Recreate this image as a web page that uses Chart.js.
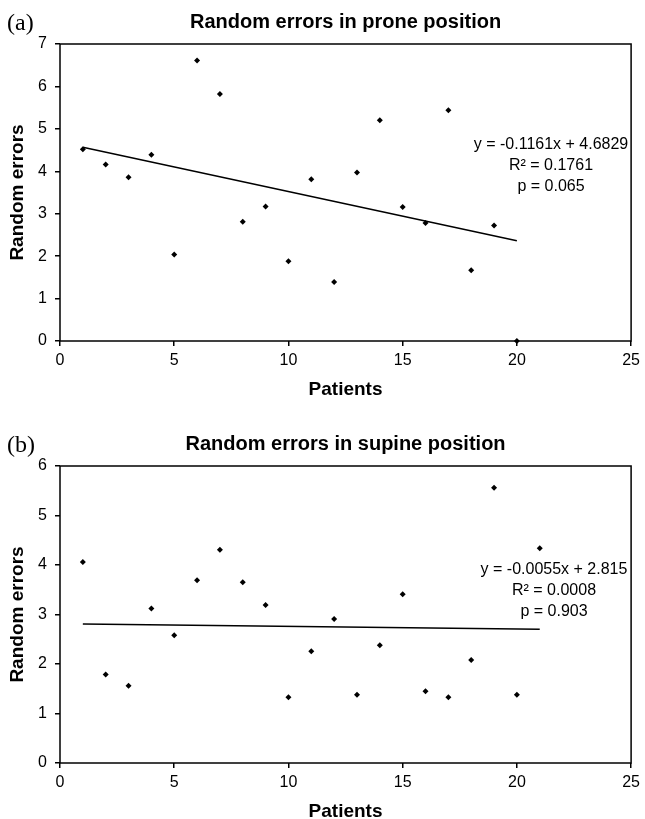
<!DOCTYPE html>
<html>
<head>
<meta charset="utf-8">
<script src="https://cdn.jsdelivr.net/npm/chart.js@4"></script>
<style>
  html, body { margin: 0; padding: 0; background: #fff; overflow: hidden; }
  canvas { position: absolute; left: 0; }
  #chartA { top: 0; }
  #chartB { top: 410px; }
</style>
</head>
<body>
<canvas id="chartA" width="645" height="410"></canvas>
<canvas id="chartB" width="645" height="409"></canvas>
<script>
// data
const pronePatients = [1, 2, 3, 4, 5, 6, 7, 8, 9, 10, 11, 12, 13, 14, 15, 16, 17, 18, 19, 20];
const proneErrors = [4.52, 4.16, 3.86, 4.39, 2.04, 6.61, 5.82, 2.81, 3.17, 1.88, 3.81, 1.39, 3.97, 5.20, 3.16, 2.78, 5.44, 1.67, 2.72, 0];
const proneTrendX = [1, 20];
const proneTrendY = [4.567, 2.361];

const supinePatients = [1, 2, 3, 4, 5, 6, 7, 8, 9, 10, 11, 12, 13, 14, 15, 16, 17, 18, 19, 20, 21];
const supineErrors = [4.06, 1.79, 1.56, 3.12, 2.58, 3.69, 4.31, 3.65, 3.19, 1.33, 2.26, 2.91, 1.38, 2.38, 3.41, 1.45, 1.33, 2.08, 5.56, 1.38, 4.34];
const supineTrendX = [1, 21];
const supineTrendY = [2.810, 2.700];

const xTicks = [0, 5, 10, 15, 20, 25];
const proneYTicks = [0, 1, 2, 3, 4, 5, 6, 7];
const supineYTicks = [0, 1, 2, 3, 4, 5, 6];

const proneEquation = ["y = -0.1161x + 4.6829", "R² = 0.1761", "p = 0.065"];
const supineEquation = ["y = -0.0055x + 2.815", "R² = 0.0008", "p = 0.903"];

const FONT = '"Liberation Sans", Arial, Helvetica, sans-serif';
Chart.defaults.font.family = FONT;
Chart.defaults.color = '#000';

const toPoints = (xs, ys) => xs.map((x, i) => ({ x: x, y: ys[i] }));

// frame, panel letter, title and regression text
const panelDeco = {
  id: 'panelDeco',
  beforeDatasetsDraw(chart, args, opts) {
    const a = chart.chartArea;
    const ctx = chart.ctx;
    ctx.save();
    ctx.strokeStyle = '#000';
    ctx.lineWidth = 1.5;
    ctx.strokeRect(a.left, a.top, a.right - a.left, a.bottom - a.top);
    ctx.restore();
  },
  afterDraw(chart, args, opts) {
    const a = chart.chartArea;
    const ctx = chart.ctx;
    ctx.save();
    ctx.fillStyle = '#000';
    ctx.font = 'bold 20px ' + FONT;
    ctx.textAlign = 'center';
    ctx.textBaseline = 'alphabetic';
    ctx.fillText(opts.title, (a.left + a.right) / 2, opts.titleY);

    ctx.font = '24px "Liberation Serif", "Times New Roman", serif';
    ctx.textAlign = 'left';
    ctx.fillText(opts.letter, 7, opts.letterY);

    ctx.font = '16px ' + FONT;
    ctx.textAlign = 'center';
    ctx.textBaseline = 'middle';
    opts.eqLines.forEach((t, i) => ctx.fillText(t, opts.eqX, opts.eqY + i * 21));
    ctx.restore();
  }
};

function makeChart(id, cfg) {
  return new Chart(document.getElementById(id), {
    type: 'scatter',
    data: {
      datasets: [{
        data: toPoints(cfg.xs, cfg.ys),
        pointStyle: 'rectRot',
        pointRadius: 3,
        backgroundColor: '#000',
        borderWidth: 0,
        clip: false
      }, {
        data: toPoints(cfg.trendX, cfg.trendY),
        showLine: true,
        pointRadius: 0,
        borderColor: '#000',
        borderWidth: 1.5
      }]
    },
    options: {
      responsive: false,
      animation: false,
      layout: { padding: { top: cfg.top, right: 11, bottom: 0, left: 0 } },
      plugins: {
        legend: { display: false },
        tooltip: { enabled: false },
        panelDeco: cfg.deco
      },
      scales: {
        x: {
          type: 'linear',
          min: 0,
          max: 25,
          afterBuildTicks: s => { s.ticks = xTicks.map(v => ({ value: v })); },
          afterFit: s => { s.height = cfg.xHeight; },
          border: { display: false },
          grid: { drawOnChartArea: false, drawTicks: true, tickLength: 5, color: '#000', lineWidth: 1.5 },
          ticks: { font: { size: 16 }, padding: 5, maxRotation: 0 },
          title: {
            display: true,
            text: 'Patients',
            font: { size: 19, weight: 'bold', lineHeight: 1 },
            padding: { top: 0, bottom: cfg.xTitlePad }
          }
        },
        y: {
          type: 'linear',
          min: 0,
          max: cfg.yTicks[cfg.yTicks.length - 1],
          afterBuildTicks: s => { s.ticks = cfg.yTicks.map(v => ({ value: v })); },
          afterFit: s => { s.width = 60; },
          border: { display: false },
          grid: { drawOnChartArea: false, drawTicks: true, tickLength: 5, color: '#000', lineWidth: 1.5 },
          ticks: { font: { size: 16 }, padding: 8 },
          title: {
            display: true,
            text: 'Random errors',
            font: { size: 19, weight: 'bold', lineHeight: 1 },
            padding: { top: 8, bottom: 0 }
          }
        }
      }
    },
    plugins: [panelDeco]
  });
}

makeChart('chartA', {
  xs: pronePatients, ys: proneErrors, trendX: proneTrendX, trendY: proneTrendY,
  yTicks: proneYTicks, top: 44, xHeight: 69, xTitlePad: 11,
  deco: { title: 'Random errors in prone position', titleY: 28, letter: '(a)', letterY: 30,
          eqLines: proneEquation, eqX: 551, eqY: 145 }
});

makeChart('chartB', {
  xs: supinePatients, ys: supineErrors, trendX: supineTrendX, trendY: supineTrendY,
  yTicks: supineYTicks, top: 56, xHeight: 56, xTitlePad: -2,
  deco: { title: 'Random errors in supine position', titleY: 40, letter: '(b)', letterY: 42,
          eqLines: supineEquation, eqX: 554, eqY: 160 }
});
</script>
</body>
</html>
